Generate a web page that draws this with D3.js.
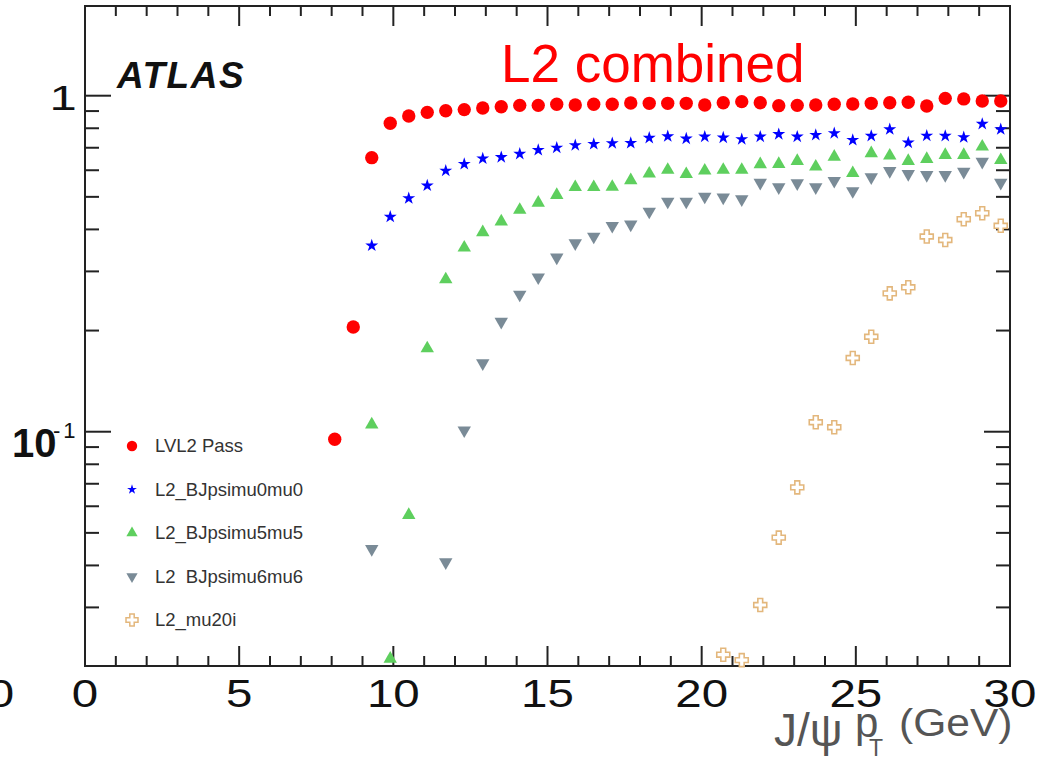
<!DOCTYPE html>
<html>
<head>
<meta charset="utf-8">
<script src="https://d3js.org/d3.v7.min.js"></script>
<style>
  body { margin: 0; background: #fff; }
  text { font-family: "Liberation Sans", Arial, sans-serif; }
</style>
</head>
<body>
<div id="vis"></div>
<script>
// bin centres (0.6 GeV bins)
const ptLVL2 = [8.1, 8.7, 9.3, 9.9, 10.5, 11.1, 11.7, 12.3, 12.9, 13.5, 14.1, 14.7, 15.3, 15.9, 16.5, 17.1, 17.7, 18.3, 18.9, 19.5, 20.1, 20.7, 21.3, 21.9, 22.5, 23.1, 23.7, 24.3, 24.9, 25.5, 26.1, 26.7, 27.3, 27.9, 28.5, 29.1, 29.7]
const effLVL2 = [0.095, 0.205, 0.654, 0.828, 0.870, 0.892, 0.902, 0.909, 0.919, 0.927, 0.936, 0.936, 0.943, 0.938, 0.943, 0.943, 0.951, 0.949, 0.949, 0.949, 0.938, 0.953, 0.960, 0.953, 0.934, 0.936, 0.938, 0.943, 0.945, 0.949, 0.953, 0.956, 0.932, 0.982, 0.978, 0.964, 0.964]

const ptMu0 = [9.3, 9.9, 10.5, 11.1, 11.7, 12.3, 12.9, 13.5, 14.1, 14.7, 15.3, 15.9, 16.5, 17.1, 17.7, 18.3, 18.9, 19.5, 20.1, 20.7, 21.3, 21.9, 22.5, 23.1, 23.7, 24.3, 24.9, 25.5, 26.1, 26.7, 27.3, 27.9, 28.5, 29.1, 29.7]
const effMu0 = [0.358, 0.436, 0.495, 0.540, 0.598, 0.626, 0.650, 0.656, 0.671, 0.689, 0.700, 0.712, 0.718, 0.722, 0.723, 0.749, 0.757, 0.745, 0.755, 0.750, 0.742, 0.755, 0.768, 0.755, 0.764, 0.773, 0.738, 0.759, 0.794, 0.725, 0.760, 0.759, 0.752, 0.824, 0.794]

const ptMu5 = [9.3, 9.9, 10.5, 11.1, 11.7, 12.3, 12.9, 13.5, 14.1, 14.7, 15.3, 15.9, 16.5, 17.1, 17.7, 18.3, 18.9, 19.5, 20.1, 20.7, 21.3, 21.9, 22.5, 23.1, 23.7, 24.3, 24.9, 25.5, 26.1, 26.7, 27.3, 27.9, 28.5, 29.1, 29.7]
const effMu5 = [0.105, 0.0211, 0.0565, 0.177, 0.284, 0.353, 0.392, 0.422, 0.457, 0.480, 0.506, 0.534, 0.534, 0.535, 0.560, 0.586, 0.601, 0.584, 0.598, 0.601, 0.601, 0.625, 0.626, 0.639, 0.615, 0.658, 0.588, 0.674, 0.663, 0.639, 0.648, 0.666, 0.666, 0.705, 0.643]

const ptMu6 = [9.3, 11.7, 12.3, 12.9, 13.5, 14.1, 14.7, 15.3, 15.9, 16.5, 17.1, 17.7, 18.3, 18.9, 19.5, 20.1, 20.7, 21.3, 21.9, 22.5, 23.1, 23.7, 24.3, 24.9, 25.5, 26.1, 26.7, 27.3, 27.9, 28.5, 29.1, 29.7]
const effMu6 = [0.0448, 0.0409, 0.101, 0.160, 0.2125, 0.256, 0.288, 0.330, 0.364, 0.381, 0.410, 0.414, 0.452, 0.484, 0.484, 0.501, 0.498, 0.492, 0.551, 0.534, 0.549, 0.534, 0.558, 0.520, 0.572, 0.597, 0.585, 0.581, 0.581, 0.594, 0.636, 0.551]

const ptMu20 = [20.7, 21.3, 21.9, 22.5, 23.1, 23.7, 24.3, 24.9, 25.5, 26.1, 26.7, 27.3, 27.9, 28.5, 29.1, 29.7]
const effMu20 = [0.0217, 0.0209, 0.0305, 0.0484, 0.0683, 0.1067, 0.1031, 0.1657, 0.1917, 0.258, 0.269, 0.381, 0.372, 0.429, 0.447, 0.410]

const seriesNames = ['LVL2 Pass', 'L2_BJpsimu0mu0', 'L2_BJpsimu5mu5', 'L2\u00a0 BJpsimu6mu6', 'L2_mu20i']

const xMajor = [0, 5, 10, 15, 20, 25, 30]
const xMinor = d3.range(0, 31)
const yMajor = [0.1, 1]
const yMinor = [0.03, 0.04, 0.05, 0.06, 0.07, 0.08, 0.09, 0.2, 0.3, 0.4, 0.5, 0.6, 0.7, 0.8, 0.9]

const width = 1049, height = 760
const frame = {left: 85, right: 1010, top: 6, bottom: 666}

const svg = d3.select('#vis').append('svg')
    .attr('width', width)
    .attr('height', height)

const x = d3.scaleLinear().domain([0, 30]).range([frame.left, frame.right])
const y = d3.scaleLog().domain([0.02008, 1.849]).range([frame.bottom, frame.top])

// marker shapes (ROOT style)
const circle = d3.symbol().type(d3.symbolCircle)
const star = d3.symbol().type(d3.symbolStar)
const tri = d3.symbol().type(d3.symbolTriangle)
function crossPath(a, l) {
  return `M${-a},${-l}H${a}V${-a}H${l}V${a}H${a}V${l}H${-a}V${a}H${-l}V${-a}H${-a}Z`
}

const series = [
  {name: seriesNames[0], pt: ptLVL2, eff: effLVL2, path: circle.size(140)(), lpath: circle.size(85)(), fill: '#ff0000', stroke: 'none', rot: 0},
  {name: seriesNames[1], pt: ptMu0, eff: effMu0, path: star.size(52)(), lpath: star.size(30)(), fill: '#0000ff', stroke: 'none', rot: 0},
  {name: seriesNames[2], pt: ptMu5, eff: effMu5, path: tri.size(78)(), lpath: tri.size(55)(), fill: '#5ecf5e', stroke: 'none', rot: 0},
  {name: seriesNames[3], pt: ptMu6, eff: effMu6, path: tri.size(78)(), lpath: tri.size(55)(), fill: '#7a8b97', stroke: 'none', rot: 180},
  {name: seriesNames[4], pt: ptMu20, eff: effMu20, path: crossPath(2.4, 6.5), lpath: crossPath(2.2, 6), fill: '#fff', stroke: '#e3b77c', rot: 0}
]

// frame
svg.append('rect')
    .attr('x', frame.left).attr('y', frame.top)
    .attr('width', frame.right - frame.left)
    .attr('height', frame.bottom - frame.top)
    .attr('fill', 'none')
    .attr('stroke', '#222')
    .attr('stroke-width', 2)

// ticks on all four sides, pointing inward
const tickG = svg.append('g').attr('stroke', '#222').attr('stroke-width', 2)
function xTicks(vals, len) {
  tickG.selectAll(null).data(vals).join('line')
      .attr('x1', d => x(d)).attr('x2', d => x(d))
      .attr('y1', frame.bottom).attr('y2', frame.bottom - len)
  tickG.selectAll(null).data(vals).join('line')
      .attr('x1', d => x(d)).attr('x2', d => x(d))
      .attr('y1', frame.top).attr('y2', frame.top + len)
}
function yTicks(vals, len) {
  tickG.selectAll(null).data(vals).join('line')
      .attr('y1', d => y(d)).attr('y2', d => y(d))
      .attr('x1', frame.left).attr('x2', frame.left + len)
  tickG.selectAll(null).data(vals).join('line')
      .attr('y1', d => y(d)).attr('y2', d => y(d))
      .attr('x1', frame.right).attr('x2', frame.right - len)
}
xTicks(xMinor.filter(d => d % 5 !== 0), 10)
xTicks(xMajor.filter(d => d > 0 && d < 30), 20)
yTicks(yMinor, 14)
yTicks(yMajor, 26)

// x tick labels (wide font look)
svg.append('g').selectAll('text')
  .data(xMajor)
  .join('text')
    .attr('transform', d => `translate(${x(d)},707) scale(1.25,1)`)
    .attr('text-anchor', 'middle')
    .attr('font-size', 38)
    .attr('fill', '#111')
    .text(d => d)
// stray label from neighbouring panel, cut by the left edge
svg.append('text')
    .attr('transform', 'translate(1,707) scale(1.25,1)')
    .attr('text-anchor', 'middle')
    .attr('font-size', 38)
    .attr('fill', '#111')
    .text('0')

// y tick labels
svg.append('text')
    .attr('transform', `translate(63,${y(1) + 14}) scale(1.4,1)`)
    .attr('text-anchor', 'middle')
    .attr('font-size', 35)
    .attr('fill', '#111')
    .text('1')
svg.append('text')
    .attr('x', 12).attr('y', y(0.1) + 25)
    .attr('font-size', 40)
    .attr('font-weight', 'bold')
    .attr('fill', '#111')
    .text('10')
svg.append('text')
    .attr('x', 53).attr('y', y(0.1) + 6)
    .attr('font-size', 22)
    .attr('letter-spacing', 3)
    .attr('fill', '#111')
    .text('-1')

// data points
series.forEach(s => {
  svg.append('g').selectAll('path')
    .data(d3.zip(s.pt, s.eff))
    .join('path')
      .attr('transform', d => `translate(${x(d[0])},${y(d[1])}) rotate(${s.rot})`)
      .attr('d', s.path)
      .attr('fill', s.fill)
      .attr('stroke', s.stroke)
      .attr('stroke-width', 1.6)
})

// legend
const leg = svg.append('g')
  .selectAll('g')
  .data(series)
  .join('g')
    .attr('transform', (d, i) => `translate(132,${446 + i * 43.5})`)
leg.append('path')
    .attr('d', d => d.lpath)
    .attr('transform', d => `rotate(${d.rot})`)
    .attr('fill', d => d.fill)
    .attr('stroke', d => d.stroke)
    .attr('stroke-width', 1.5)
leg.append('text')
    .attr('x', 23)
    .attr('y', 6)
    .attr('font-size', 18.5)
    .attr('fill', '#333')
    .text(d => d.name)

// labels
svg.append('text')
    .attr('x', 117).attr('y', 88)
    .attr('font-size', 37)
    .attr('letter-spacing', 1.5)
    .attr('font-weight', 'bold')
    .attr('font-style', 'italic')
    .attr('fill', '#111')
    .text('ATLAS')

svg.append('text')
    .attr('x', 501).attr('y', 81.5)
    .attr('font-size', 53)
    .attr('fill', '#ff0000')
    .text('L2 combined')

// axis title J/psi p_T (GeV)
const titleG = svg.append('g').attr('fill', '#555')
titleG.append('text').attr('x', 774).attr('y', 746).attr('font-size', 46).text('J/ψ')
titleG.append('text').attr('x', 855).attr('y', 737).attr('font-size', 42).text('p')
titleG.append('text').attr('x', 869).attr('y', 756).attr('font-size', 23).text('T')
titleG.append('text')
    .attr('transform', 'translate(899,736) scale(1.12,1)')
    .attr('font-size', 38)
    .text('(GeV)')
</script>
</body>
</html>
